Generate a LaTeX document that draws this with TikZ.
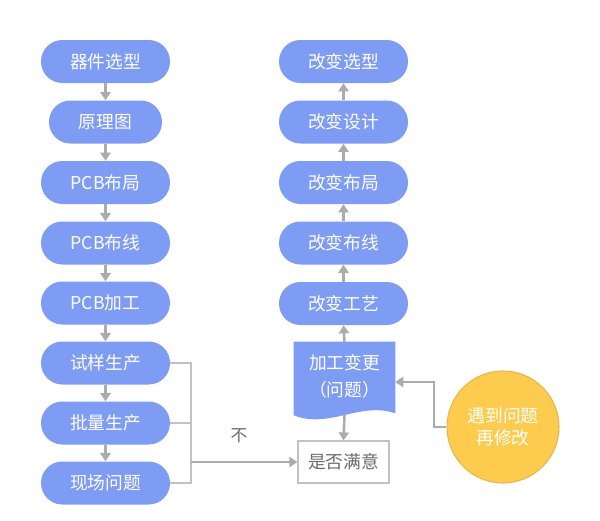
\documentclass[tikz,border=0pt]{standalone}
\usepackage{fontspec}
\setmainfont{Noto Sans CJK SC}
\usetikzlibrary{arrows.meta}
\definecolor{bl}{HTML}{7E9CF4}
\definecolor{ar}{HTML}{ABABAB}
\definecolor{ln}{HTML}{C2C2C2}
\definecolor{yl}{HTML}{FDCB4E}
\definecolor{yb}{HTML}{E6B648}
\definecolor{tx}{HTML}{6A6A6A}
\begin{document}
\begin{tikzpicture}[x=0.75pt,y=-0.75pt,
  pill/.style={fill=bl, rounded corners=16pt, minimum width=96.75pt, minimum height=32.25pt,
    text=white, font=\fontsize{13.3}{16}\selectfont, inner sep=0pt},
  arr/.style={draw=ar, line width=1.9pt, -{Triangle[length=6pt,width=7.5pt]}},
  thinarr/.style={draw=ar, line width=1.5pt, -{Triangle[length=6pt,width=7.5pt]}},
  brk/.style={draw=ln, line width=1.2pt},
  outbox/.style={draw=ln, line width=0.9pt, minimum width=68.25pt, minimum height=31.5pt,
    text=tx, font=\fontsize{13.3}{16}\selectfont, inner sep=0pt},
  lbl/.style={text=tx, font=\fontsize{12.5}{14}\selectfont, inner sep=0pt}
]
\useasboundingbox (0,0) rectangle (600,521);
% left column
\node[pill] (l1) at (105.5,61.5) {器件选型};
\node[pill, minimum width=84.75pt] (l2) at (105.5,122) {原理图};
\node[pill] (l3) at (105.5,182.5) {PCB布局};
\node[pill] (l4) at (105.5,243) {PCB布线};
\node[pill] (l5) at (105.5,303) {PCB加工};
\node[pill] (l6) at (105.5,363) {试样生产};
\node[pill] (l7) at (105.5,423) {批量生产};
\node[pill] (l8) at (105.5,483) {现场问题};
\foreach \a/\b in {l1/l2,l2/l3,l3/l4,l4/l5,l5/l6,l6/l7,l7/l8}
  \draw[arr] (\a.south) -- (\b.north);
% right column
\node[pill] (r1) at (343.5,61.5) {改变选型};
\node[pill] (r2) at (343.5,122) {改变设计};
\node[pill] (r3) at (343.5,182.5) {改变布局};
\node[pill] (r4) at (343.5,243) {改变布线};
\node[pill] (r5) at (343.5,303.5) {改变工艺};
\foreach \a/\b in {r5/r4,r4/r3,r3/r2,r2/r1}
  \draw[arr] (\a.north) -- (\b.south);
% document shape
\node[minimum width=75.75pt, minimum height=54pt, inner sep=0pt] (doc) at (344.5,378) {};
\fill[bl] (doc.north west) -- (doc.north east) -- ([yshift=0.75pt]doc.south east)
  .. controls +(-35,-12) and +(35,14) .. ([yshift=-0.75pt]doc.south west) -- cycle;
\node[text=white, font=\fontsize{13.3}{20}\selectfont, align=center, inner sep=0pt] (doct) at (344.5,376)
  {加工变更\\（问题）};
\coordinate (docb) at (344.5,415);
\draw[arr] (doc.north) -- (r5.south);
% satisfaction box
\node[outbox] (sat) at (343.5,462) {是否满意};
\draw[arr] (docb) -- (sat.north);
% bracket
\coordinate (bt) at (191,363);
\coordinate (bm) at (191,423);
\coordinate (bb) at (191,483);
\coordinate (bo) at (191,462);
\draw[brk] (l6.east) -- (bt) -- (bb) -- (l8.east);
\draw[brk] (l7.east) -- (bm);
\draw[thinarr] (bo) -- (sat.west);
\node[lbl] (no) at (239,436) {不};
% circle
\node[circle, fill=yl, draw=yb, line width=0.8pt, minimum size=84pt, inner sep=0pt,
  text=white, font=\fontsize{13.3}{16.5}\selectfont, align=center] (circ) at (503,427)
  {遇到问题\\再修改};
\coordinate (c1) at (434,427);
\coordinate (c2) at (434,382);
\draw[thinarr] (circ.west) -- (c1) -- (c2) -- (c2 -| doc.east);
\end{tikzpicture}
\end{document}
